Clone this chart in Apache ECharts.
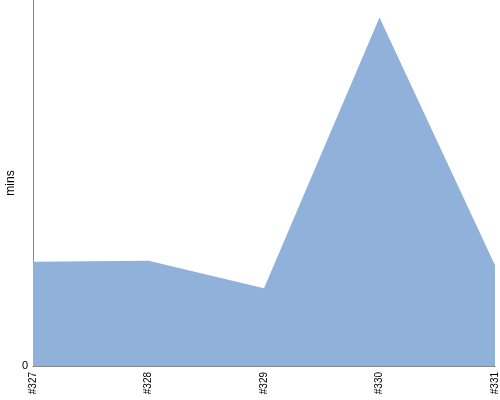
<!DOCTYPE html>
<html>
<head>
<meta charset="utf-8">
<script src="https://cdn.jsdelivr.net/npm/echarts@6/dist/echarts.min.js"></script>
<style>
  html, body { margin: 0; padding: 0; background: #fff; }
  #chart_area { width: 500px; height: 400px; }
</style>
</head>
<body>
<div id="chart_area"></div>
<script>
// builds and their durations in minutes
var builds = ['#327', '#328', '#329', '#330', '#331']
var durations = [5.7, 5.75, 4.25, 19.05, 5.5]
var yMax = 20

var chart = echarts.init(document.getElementById('chart_area'))
chart.setOption({
  animation: false,
  grid: { left: 33, right: 5, top: 0, bottom: 34, outerBoundsMode: 'none', containLabel: false },
  xAxis: {
    type: 'category',
    boundaryGap: false,
    data: builds,
    axisLine: { lineStyle: { color: '#888' } },
    axisTick: { show: false },
    axisLabel: {
      rotate: 90,
      color: '#000',
      fontFamily: 'Liberation Sans',
      fontSize: 10,
      margin: 6
    }
  },
  yAxis: {
    type: 'value',
    min: 0,
    max: yMax,
    interval: yMax,
    name: 'mins',
    nameLocation: 'middle',
    nameGap: 16,
    nameMoveOverlap: false,
    nameTextStyle: { color: '#000', fontFamily: 'Liberation Sans', fontSize: 12 },
    splitLine: { show: false },
    axisLine: { show: true, lineStyle: { color: '#888' } },
    axisTick: { show: false },
    axisLabel: {
      showMaxLabel: false,
      color: '#000',
      fontFamily: 'Liberation Sans',
      fontSize: 11,
      margin: 5
    }
  },
  series: [
    {
      type: 'line',
      data: durations,
      showSymbol: false,
      lineStyle: { width: 0 },
      areaStyle: { color: '#8fb1da', opacity: 1 }
    }
  ]
})
</script>
</body>
</html>
